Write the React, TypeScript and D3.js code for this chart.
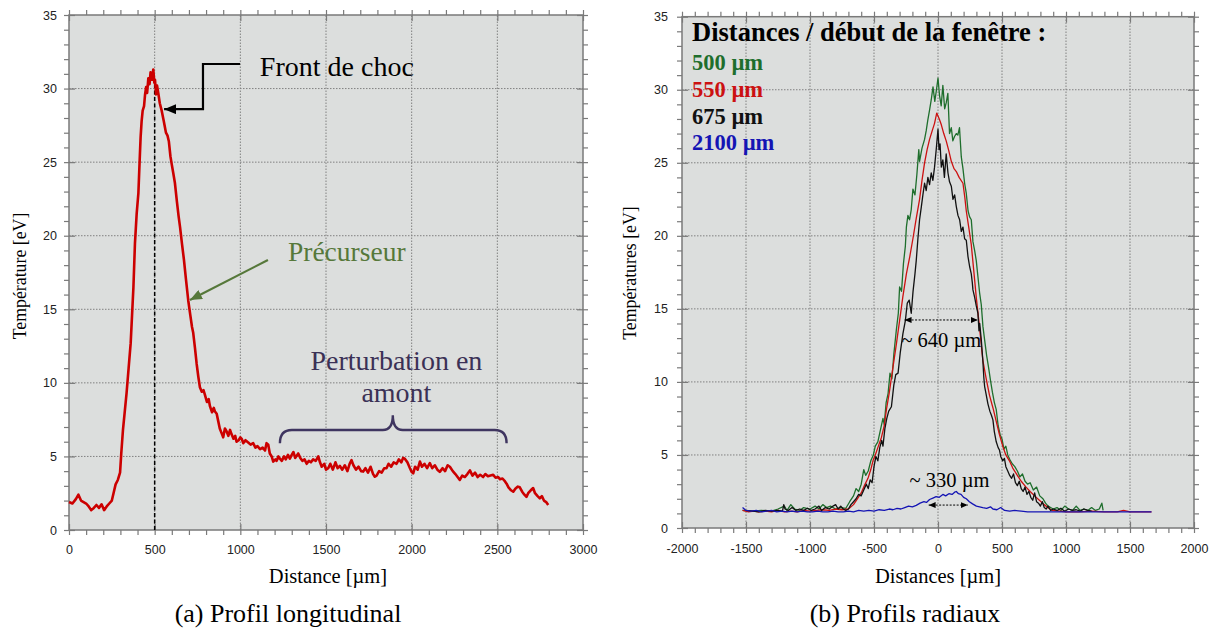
import { useEffect, useRef } from "react";
import * as d3 from "d3";

const W = 1214;
const H = 634;

const BG = "#dcdedd";
const GRID = "#808080";
const FRAME = "#7a7a7a";
const SANS = "'Liberation Sans', Arial, sans-serif";
const SERIF = "'Liberation Serif', 'Times New Roman', serif";

const RED = "#cc1111";
const GREEN = "#1e6e2c";
const BLACK = "#111111";
const BLUE = "#1414b4";

// (a) longitudinal profile: [distance µm, temperature eV]
const longProfile: [number, number][] = [
  [0, 1.9], [20, 1.8], [40, 2.1], [55, 2.4], [70, 2.0], [85, 1.9], [100, 1.8], [115, 1.6], [130, 1.35],
  [145, 1.5], [160, 1.7], [175, 1.5], [190, 1.75], [205, 1.35], [220, 1.6], [235, 1.8], [250, 2.0],
  [262, 2.6], [272, 3.1], [285, 3.4], [298, 3.9], [305, 5.2], [315, 6.8], [325, 8.0], [336, 9.3],
  [348, 11.0], [360, 12.7], [368, 14.6], [376, 16.5], [385, 19.5], [395, 21.5], [405, 22.9], [412, 25.0],
  [418, 26.7], [424, 27.8], [430, 28.5], [438, 28.8], [444, 29.6], [450, 30.1], [456, 29.7], [463, 30.7],
  [470, 30.3], [476, 31.1], [484, 30.6], [492, 31.3], [498, 30.4], [502, 30.6], [508, 29.6], [514, 30.2],
  [521, 29.7], [530, 29.0], [541, 28.5], [553, 27.8], [566, 27.0], [575, 26.8], [583, 26.4], [592, 25.4],
  [599, 24.9], [608, 24.3], [618, 23.6], [630, 22.3], [640, 21.3], [648, 20.6], [660, 19.4], [671, 18.35],
  [683, 17.0], [696, 15.6], [708, 14.6], [718, 13.8], [725, 13.4], [735, 12.4], [745, 11.3], [755, 10.4],
  [764, 9.7], [775, 9.4], [785, 9.5], [793, 9.2], [805, 8.7], [815, 8.9], [823, 8.4], [835, 8.0],
  [845, 8.3], [852, 8.05], [862, 7.9], [871, 7.4], [880, 6.9], [890, 6.6], [900, 6.3], [910, 6.9],
  [920, 6.7], [930, 6.4], [940, 6.8], [949, 6.5], [960, 6.2], [970, 6.4], [978, 6.0], [990, 6.1],
  [1000, 6.3], [1008, 6.2], [1017, 5.9], [1030, 6.1], [1046, 5.95], [1060, 5.8], [1075, 5.9], [1088, 5.6],
  [1100, 5.7], [1115, 5.5], [1130, 5.6], [1144, 5.4], [1153, 5.9], [1163, 5.8], [1172, 5.2], [1183, 5.0],
  [1192, 4.65], [1205, 4.8], [1212, 4.7], [1222, 5.0], [1231, 4.85], [1242, 4.7], [1255, 5.0], [1265, 4.8],
  [1278, 5.1], [1289, 4.85], [1300, 5.1], [1310, 5.3], [1320, 4.9], [1338, 5.2], [1350, 4.9], [1362, 4.7],
  [1375, 4.8], [1387, 4.5], [1400, 4.7], [1412, 4.6], [1425, 4.8], [1440, 4.7], [1455, 5.0], [1465, 4.6],
  [1475, 4.3], [1490, 4.5], [1500, 4.1], [1513, 4.2], [1525, 4.5], [1540, 4.1], [1555, 4.6], [1568, 4.2],
  [1581, 4.35], [1595, 4.1], [1610, 4.4], [1625, 4.0], [1638, 4.5], [1649, 4.75], [1660, 4.4], [1675, 4.1],
  [1690, 4.3], [1705, 4.0], [1717, 3.97], [1730, 4.2], [1745, 3.9], [1760, 4.3], [1775, 3.8], [1785, 3.62],
  [1795, 3.7], [1810, 4.0], [1825, 3.9], [1840, 4.2], [1853, 4.2], [1865, 4.5], [1880, 4.3], [1895, 4.6],
  [1912, 4.5], [1925, 4.8], [1940, 4.6], [1950, 4.9], [1960, 4.85], [1975, 4.6], [1990, 4.2], [2000, 3.95],
  [2009, 3.85], [2020, 4.3], [2035, 4.1], [2048, 4.65], [2060, 4.3], [2075, 4.5], [2090, 4.2], [2106, 4.55],
  [2120, 4.2], [2135, 4.4], [2150, 4.1], [2164, 3.95], [2180, 4.2], [2195, 4.0], [2210, 4.4], [2223, 4.3],
  [2240, 4.0], [2255, 3.8], [2268, 3.6], [2281, 3.4], [2295, 3.7], [2310, 3.6], [2325, 3.8], [2340, 4.05],
  [2355, 3.7], [2370, 3.9], [2385, 3.6], [2400, 3.75], [2417, 3.6], [2430, 3.8], [2445, 3.65], [2460, 3.7],
  [2476, 3.75], [2490, 3.55], [2505, 3.6], [2515, 3.45], [2530, 3.5], [2545, 3.3], [2554, 3.15], [2565, 2.9],
  [2580, 2.7], [2593, 2.6], [2605, 2.8], [2620, 2.95], [2631, 2.9], [2645, 2.6], [2658, 2.4], [2670, 2.25],
  [2680, 2.5], [2695, 2.7], [2709, 2.85], [2720, 2.5], [2735, 2.3], [2748, 2.15], [2760, 2.3], [2772, 2.0],
  [2785, 1.9], [2797, 1.7],
];

// (b) radial profiles: [distance µm, temperature eV]
const radial500: [number, number][] = [
  [-1527, 1.2], [-1450, 1.15], [-1380, 1.2], [-1300, 1.15], [-1250, 1.3], [-1200, 1.5], [-1180, 1.2],
  [-1150, 1.6], [-1120, 1.3], [-1080, 1.2], [-1050, 1.4], [-1000, 1.3], [-960, 1.5], [-930, 1.3],
  [-900, 1.6], [-870, 1.4], [-840, 1.5], [-800, 1.3], [-760, 1.4], [-720, 1.35], [-690, 1.8], [-660, 2.2],
  [-640, 2.7], [-620, 2.5], [-600, 3.0], [-580, 4.0], [-565, 3.6], [-545, 3.9], [-525, 4.6], [-505, 5.0],
  [-490, 5.6], [-470, 5.9], [-445, 6.9], [-430, 7.5], [-420, 7.1], [-405, 8.6], [-390, 9.2], [-375, 10.6],
  [-360, 10.2], [-345, 11.9], [-325, 13.6], [-310, 14.7], [-300, 16.5], [-285, 16.2], [-270, 18.1],
  [-255, 19.3], [-247, 20.6], [-235, 21.4], [-222, 21.1], [-209, 21.8], [-196, 23.2], [-180, 22.8],
  [-165, 24.2], [-150, 25.9], [-144, 25.1], [-125, 26.0], [-105, 26.6], [-92, 27.2], [-80, 27.9],
  [-66, 28.6], [-53, 29.3], [-39, 30.2], [-25, 29.2], [-12, 30.0], [0, 30.8], [12, 29.6], [25, 28.9],
  [38, 30.3], [52, 28.7], [64, 29.1], [77, 29.75], [90, 27.0], [104, 27.4], [116, 26.5], [129, 26.8],
  [143, 27.0], [155, 26.9], [168, 27.4], [182, 25.4], [195, 24.6], [208, 23.6], [221, 22.9], [235, 21.7],
  [247, 21.3], [260, 21.1], [273, 19.6], [286, 19.0], [299, 18.3], [312, 17.2], [325, 16.1], [338, 15.3],
  [351, 13.8], [364, 12.9], [380, 11.8], [395, 11.0], [410, 10.1], [425, 9.3], [440, 8.6], [455, 8.1],
  [470, 7.0], [485, 6.4], [500, 6.1], [515, 5.4], [530, 5.6], [545, 5.0], [560, 4.7], [580, 4.4],
  [600, 4.2], [620, 3.9], [640, 3.5], [660, 3.7], [680, 3.2], [700, 3.0], [720, 3.1], [745, 2.6],
  [770, 2.8], [795, 2.2], [820, 2.0], [840, 1.7], [860, 1.5], [880, 1.4], [900, 1.3], [930, 1.4],
  [960, 1.2], [990, 1.5], [1020, 1.3], [1050, 1.2], [1080, 1.5], [1110, 1.2], [1140, 1.3], [1170, 1.2],
  [1200, 1.4], [1230, 1.2], [1260, 1.3], [1280, 1.7], [1290, 1.2],
];

const radial550: [number, number][] = [
  [-1527, 1.2], [-1480, 1.1], [-1440, 1.15], [-1400, 1.1], [-1350, 1.15], [-1300, 1.1], [-1250, 1.2],
  [-1200, 1.1], [-1150, 1.15], [-1100, 1.1], [-1050, 1.2], [-1000, 1.15], [-950, 1.2], [-900, 1.25],
  [-850, 1.2], [-800, 1.3], [-750, 1.25], [-700, 1.3], [-660, 1.6], [-630, 2.0], [-600, 2.4], [-575, 2.9],
  [-547, 3.4], [-525, 4.0], [-508, 4.6], [-490, 5.0], [-470, 5.5], [-442, 6.2], [-420, 7.0], [-403, 8.1],
  [-380, 9.3], [-352, 11.0], [-325, 12.6], [-300, 14.2], [-275, 15.8], [-247, 17.4], [-220, 18.6],
  [-196, 19.8], [-170, 21.2], [-144, 22.5], [-125, 23.8], [-105, 25.0], [-85, 25.9], [-66, 26.6],
  [-45, 27.2], [-27, 27.7], [-10, 28.4], [0, 28.2], [10, 28.0], [26, 27.6], [45, 27.0], [64, 26.5],
  [85, 25.8], [104, 25.1], [125, 24.6], [143, 24.4], [165, 24.0], [195, 23.6], [210, 22.6], [221, 21.7],
  [240, 20.6], [260, 19.4], [286, 17.0], [300, 15.7], [319, 14.2], [335, 12.8], [350, 11.5], [375, 10.3],
  [402, 9.1], [430, 8.2], [455, 7.3], [480, 6.4], [506, 5.6], [530, 5.0], [558, 4.6], [584, 4.1],
  [620, 3.6], [650, 3.2], [688, 2.8], [720, 2.5], [755, 2.2], [792, 1.9], [830, 1.6], [865, 1.35],
  [896, 1.2], [950, 1.15], [1000, 1.1], [1100, 1.1], [1200, 1.15], [1300, 1.1], [1400, 1.1], [1450, 1.2],
  [1500, 1.1], [1600, 1.1], [1668, 1.1],
];

const radial675: [number, number][] = [
  [-1500, 1.2], [-1450, 1.15], [-1400, 1.1], [-1350, 1.2], [-1300, 1.15], [-1250, 1.2], [-1215, 1.15],
  [-1205, 1.6], [-1195, 1.3], [-1170, 1.2], [-1140, 1.4], [-1110, 1.2], [-1080, 1.3], [-1050, 1.2],
  [-1020, 1.35], [-990, 1.2], [-960, 1.3], [-930, 1.5], [-910, 1.2], [-880, 1.4], [-850, 1.3], [-820, 1.5],
  [-800, 1.6], [-780, 1.3], [-760, 1.5], [-740, 1.3], [-720, 1.2], [-700, 1.3], [-680, 1.6], [-660, 1.8],
  [-640, 2.0], [-620, 2.3], [-600, 2.2], [-580, 2.6], [-560, 3.0], [-545, 2.7], [-530, 3.3], [-515, 3.1],
  [-500, 4.2], [-485, 4.9], [-470, 4.6], [-455, 5.5], [-440, 6.0], [-430, 5.6], [-415, 6.8], [-400, 7.5],
  [-385, 8.0], [-364, 8.3], [-345, 9.8], [-330, 10.5], [-312, 10.6], [-295, 12.0], [-274, 13.3],
  [-255, 14.2], [-240, 15.4], [-225, 15.6], [-209, 14.7], [-195, 16.2], [-180, 17.4], [-170, 18.3],
  [-157, 19.8], [-144, 21.1], [-130, 22.0], [-118, 22.8], [-105, 23.6], [-92, 23.1], [-79, 24.0],
  [-66, 23.5], [-53, 24.3], [-40, 23.8], [-27, 24.7], [-14, 25.9], [-5, 26.8], [0, 27.3], [8, 25.9],
  [16, 26.3], [26, 24.7], [38, 25.2], [50, 24.0], [64, 25.6], [78, 24.3], [90, 23.7], [104, 23.4],
  [117, 22.5], [130, 22.8], [143, 22.0], [156, 21.4], [169, 21.1], [182, 20.3], [195, 20.6], [208, 19.8],
  [221, 19.7], [234, 18.6], [247, 17.9], [260, 17.4], [268, 16.8], [273, 16.3], [286, 15.8], [299, 15.2],
  [312, 14.7], [320, 13.5], [326, 14.0], [338, 12.9], [350, 11.5], [358, 10.3], [364, 9.7], [375, 9.2],
  [390, 8.5], [405, 8.0], [418, 7.7], [429, 7.4], [440, 6.6], [455, 5.9], [470, 5.5], [480, 5.34],
  [490, 4.9], [505, 4.6], [519, 4.77], [530, 4.2], [545, 3.9], [560, 3.6], [575, 3.4], [590, 3.7],
  [605, 3.1], [620, 2.9], [635, 3.2], [650, 2.7], [665, 2.5], [680, 2.8], [695, 2.3], [710, 2.5],
  [725, 2.1], [740, 1.9], [755, 2.4], [770, 1.8], [785, 1.7], [800, 1.5], [815, 1.8], [830, 1.4],
  [845, 1.3], [860, 1.5], [880, 1.2], [900, 1.3], [930, 1.2], [960, 1.35], [990, 1.15], [1020, 1.3],
  [1050, 1.2], [1080, 1.25], [1110, 1.15], [1140, 1.3], [1170, 1.2], [1200, 1.15],
];

const radial2100: [number, number][] = [
  [-1527, 1.4], [-1500, 1.2], [-1460, 1.15], [-1420, 1.2], [-1380, 1.1], [-1340, 1.15], [-1300, 1.2],
  [-1260, 1.1], [-1220, 1.15], [-1180, 1.1], [-1140, 1.15], [-1100, 1.1], [-1060, 1.15], [-1020, 1.1],
  [-980, 1.1], [-940, 1.15], [-900, 1.1], [-860, 1.1], [-820, 1.15], [-780, 1.1], [-740, 1.1],
  [-700, 1.15], [-660, 1.1], [-620, 1.2], [-580, 1.15], [-540, 1.2], [-500, 1.15], [-460, 1.25],
  [-420, 1.2], [-380, 1.3], [-352, 1.25], [-320, 1.35], [-290, 1.3], [-260, 1.4], [-230, 1.5],
  [-200, 1.45], [-170, 1.55], [-140, 1.7], [-110, 1.8], [-90, 1.75], [-66, 1.95], [-40, 2.05],
  [-15, 2.15], [10, 2.1], [38, 2.3], [60, 2.2], [85, 2.35], [110, 2.3], [130, 2.45], [143, 2.5],
  [160, 2.35], [180, 2.3], [200, 2.1], [221, 2.0], [245, 1.8], [270, 1.65], [300, 1.5], [325, 1.45],
  [350, 1.4], [380, 1.35], [410, 1.45], [429, 1.3], [460, 1.25], [490, 1.4], [520, 1.2], [560, 1.15],
  [600, 1.2], [650, 1.15], [700, 1.1], [760, 1.1], [820, 1.1], [900, 1.1], [1000, 1.1], [1100, 1.1],
  [1200, 1.1], [1300, 1.1], [1400, 1.1], [1500, 1.1], [1600, 1.1], [1668, 1.1],
];

const radialSeries = [
  { data: radial500, color: GREEN },
  { data: radial550, color: RED },
  { data: radial675, color: BLACK },
  { data: radial2100, color: BLUE },
];

const legendTitle = "Distances / début de la fenêtre :";
const legendLabels = ["500 µm", "550 µm", "675 µm", "2100 µm"];
const legendColors = [GREEN, RED, BLACK, BLUE];

const yMajor = [0, 5, 10, 15, 20, 25, 30, 35];
const yMinor = d3.range(0, 36, 1);
const xMajorA = [0, 500, 1000, 1500, 2000, 2500, 3000];
const xMinorA = d3.range(0, 3001, 100);
const xMajorB = [-2000, -1500, -1000, -500, 0, 500, 1000, 1500, 2000];
const xMinorB = d3.range(-2000, 2001, 100);

type Sel = d3.Selection<SVGGElement, unknown, null, undefined>;

function drawFrame(
  g: Sel,
  x: d3.ScaleLinear<number, number>,
  y: d3.ScaleLinear<number, number>,
  xMajor: number[],
  xMinor: number[],
  labelPadX: number,
  labelPadY: number
) {
  const [x0, x1] = x.range();
  const [y0, y1] = y.range();

  g.append("rect")
    .attr("x", x0).attr("y", y1)
    .attr("width", x1 - x0).attr("height", y0 - y1)
    .attr("fill", BG);

  g.selectAll(".gx")
    .data(xMajor.slice(1, -1))
    .join("line")
    .attr("x1", (d) => x(d)).attr("x2", (d) => x(d))
    .attr("y1", y0).attr("y2", y1)
    .attr("stroke", GRID).attr("stroke-width", 1).attr("stroke-dasharray", "1.5,1.5");

  g.selectAll(".gy")
    .data(yMajor.slice(1, -1))
    .join("line")
    .attr("x1", x0).attr("x2", x1)
    .attr("y1", (d) => y(d)).attr("y2", (d) => y(d))
    .attr("stroke", GRID).attr("stroke-width", 1).attr("stroke-dasharray", "1.5,1.5");

  const style = (a: Sel) => {
    a.select(".domain").remove();
    a.selectAll("line").attr("stroke", FRAME).attr("stroke-width", 1.2);
  };
  const blank = () => "";

  // minor ticks, outward on all four sides
  g.append("g").attr("transform", `translate(0,${y0})`).call(d3.axisBottom(x).tickValues(xMinor).tickSize(5).tickFormat(blank)).call(style);
  g.append("g").attr("transform", `translate(0,${y1})`).call(d3.axisTop(x).tickValues(xMinor).tickSize(5).tickFormat(blank)).call(style);
  g.append("g").attr("transform", `translate(${x0},0)`).call(d3.axisLeft(y).tickValues(yMinor).tickSize(5).tickFormat(blank)).call(style);
  g.append("g").attr("transform", `translate(${x1},0)`).call(d3.axisRight(y).tickValues(yMinor).tickSize(5).tickFormat(blank)).call(style);

  // major ticks inward + labels
  const xa = g.append("g").attr("transform", `translate(0,${y0})`)
    .call(d3.axisBottom(x).tickValues(xMajor).tickSize(-6).tickPadding(labelPadX).tickFormat((d) => String(d)))
    .call(style);
  xa.selectAll("text").attr("font-family", SANS).attr("font-size", 12.5).attr("fill", "#222");
  const ya = g.append("g").attr("transform", `translate(${x0},0)`)
    .call(d3.axisLeft(y).tickValues(yMajor).tickSize(-6).tickPadding(labelPadY).tickFormat((d) => String(d)))
    .call(style);
  ya.selectAll("text").attr("font-family", SANS).attr("font-size", 12.5).attr("fill", "#222");
  g.append("g").attr("transform", `translate(0,${y1})`).call(d3.axisTop(x).tickValues(xMajor).tickSize(-6).tickFormat(blank)).call(style);
  g.append("g").attr("transform", `translate(${x1},0)`).call(d3.axisRight(y).tickValues(yMajor).tickSize(-6).tickFormat(blank)).call(style);

  g.append("rect")
    .attr("x", x0).attr("y", y1)
    .attr("width", x1 - x0).attr("height", y0 - y1)
    .attr("fill", "none").attr("stroke", FRAME).attr("stroke-width", 1.5);
}

function addText(g: Sel, x: number, y: number, text: string, size: number, opts: Record<string, string | number> = {}) {
  const t = g.append("text").attr("x", x).attr("y", y).attr("font-family", SERIF).attr("font-size", size).text(text);
  Object.entries(opts).forEach(([k, v]) => t.attr(k, v));
  return t;
}

export default function App() {
  const svgRef = useRef<SVGSVGElement>(null);

  useEffect(() => {
    const svg = svgRef.current;
    if (!svg) return;
    const root = d3.select(svg);
    root.selectAll("*").remove();

    const defs = root.append("defs");
    const marker = (id: string, color: string, w: number, h: number) =>
      defs.append("marker")
        .attr("id", id).attr("viewBox", `0 0 ${w} ${h}`)
        .attr("refX", w).attr("refY", h / 2)
        .attr("markerWidth", w).attr("markerHeight", h)
        .attr("markerUnits", "userSpaceOnUse").attr("orient", "auto-start-reverse")
        .append("path").attr("d", `M0,0L${w},${h / 2}L0,${h}Z`).attr("fill", color);
    marker("arrBlack", "#000", 12, 10);
    marker("arrGreen", "#56783a", 12, 10);
    marker("arrSmall", "#000", 7, 6);

    const g = root.append("g") as unknown as Sel;

    // ---------- (a) Profil longitudinal ----------
    const xA = d3.scaleLinear().domain([0, 3000]).range([69, 583]);
    const yA = d3.scaleLinear().domain([0, 35]).range([530, 15]);
    const ga = g.append("g") as unknown as Sel;
    drawFrame(ga, xA, yA, xMajorA, xMinorA, 15, 12);

    // shock front marker
    ga.append("line")
      .attr("x1", xA(500)).attr("x2", xA(500))
      .attr("y1", yA(0)).attr("y2", yA(30.4))
      .attr("stroke", "#000").attr("stroke-width", 1.5).attr("stroke-dasharray", "4,2.5");

    const lineA = d3.line<[number, number]>().x((d) => xA(d[0])).y((d) => yA(d[1]));
    ga.append("path").datum(longProfile)
      .attr("d", lineA).attr("fill", "none")
      .attr("stroke", "#cc0000").attr("stroke-width", 2.6).attr("stroke-linejoin", "round");

    // Front de choc
    ga.append("path")
      .attr("d", `M${xA(998)},${yA(31.67)}H${xA(782)}V${yA(28.6)}H${xA(555)}`)
      .attr("fill", "none").attr("stroke", "#000").attr("stroke-width", 2.2)
      .attr("marker-end", "url(#arrBlack)");
    addText(ga, xA(1114), 76, "Front de choc", 28, { fill: "#000" });

    // Précurseur
    ga.append("line")
      .attr("x1", xA(1161)).attr("y1", yA(18.35))
      .attr("x2", xA(706)).attr("y2", yA(15.63))
      .attr("stroke", "#56783a").attr("stroke-width", 2.2)
      .attr("marker-end", "url(#arrGreen)");
    addText(ga, xA(1278), 261, "Précurseur", 27.5, { fill: "#56783a" });

    // Perturbation en amont
    addText(ga, xA(1911), 370, "Perturbation en", 28, { fill: "#3b3156", "text-anchor": "middle" });
    addText(ga, xA(1911), 401.5, "amont", 28, { fill: "#3b3156", "text-anchor": "middle" });
    const bl = xA(1231), br = xA(2554), bc = xA(1890), bt = yA(6.8), bb = yA(5.9), bp = yA(7.8);
    ga.append("path")
      .attr("d", `M${bl},${bb}Q${bl},${bt} ${bl + 12},${bt}L${bc - 10},${bt}Q${bc},${bt} ${bc},${bp}Q${bc},${bt} ${bc + 10},${bt}L${br - 12},${bt}Q${br},${bt} ${br},${bb}`)
      .attr("fill", "none").attr("stroke", "#3f3560").attr("stroke-width", 2.4);

    addText(ga, 328, 583, "Distance [µm]", 20.5, { "text-anchor": "middle" });
    addText(ga, 0, 0, "Température [eV]", 17.8, {
      "text-anchor": "middle",
      transform: `translate(26,276) rotate(-90)`,
    });
    addText(ga, 288, 622, "(a) Profil longitudinal", 26, { "text-anchor": "middle" });

    // ---------- (b) Profils radiaux ----------
    const xB = d3.scaleLinear().domain([-2000, 2000]).range([682, 1194]);
    const yB = d3.scaleLinear().domain([0, 35]).range([528, 16.7]);
    const gb = g.append("g") as unknown as Sel;
    drawFrame(gb, xB, yB, xMajorB, xMinorB, 16, 14);

    const lineB = d3.line<[number, number]>().x((d) => xB(d[0])).y((d) => yB(d[1]));
    gb.selectAll(".radial")
      .data(radialSeries)
      .join("path")
      .attr("d", (d) => lineB(d.data))
      .attr("fill", "none")
      .attr("stroke", (d) => d.color)
      .attr("stroke-width", 1.3)
      .attr("stroke-linejoin", "round");

    // widths
    const dbl = (xa: number, xb: number, yv: number) =>
      gb.append("line")
        .attr("x1", xB(xa)).attr("x2", xB(xb)).attr("y1", yB(yv)).attr("y2", yB(yv))
        .attr("stroke", "#000").attr("stroke-width", 1).attr("stroke-dasharray", "2,1.5")
        .attr("marker-start", "url(#arrSmall)").attr("marker-end", "url(#arrSmall)");
    dbl(-261, 311, 14.24);
    addText(gb, xB(-286), yB(12.4), "~ 640 µm", 20.5, { fill: "#000" });
    dbl(-73, 233, 1.57);
    addText(gb, xB(-222), yB(2.8), "~ 330 µm", 20.5, { fill: "#000" });

    // legend
    addText(gb, 692, 41, legendTitle, 26.5, { "font-weight": "bold", fill: "#000" });
    gb.selectAll(".leg")
      .data(legendLabels)
      .join("text")
      .attr("x", 692)
      .attr("y", (_, i) => 70 + i * 26.8)
      .attr("font-family", SERIF).attr("font-size", 22.5).attr("font-weight", "bold")
      .attr("fill", (_, i) => legendColors[i])
      .text((d) => d);

    addText(gb, 938, 583, "Distances [µm]", 20.5, { "text-anchor": "middle" });
    addText(gb, 0, 0, "Températures [eV]", 17.8, {
      "text-anchor": "middle",
      transform: `translate(636,273) rotate(-90)`,
    });
    addText(gb, 905, 622, "(b) Profils radiaux", 26, { "text-anchor": "middle" });

    return () => {
      root.selectAll("*").remove();
    };
  }, []);

  return (
    <div style={{ position: "absolute", left: 0, top: 0, width: W, height: H, background: "#fff" }}>
      <svg ref={svgRef} width={W} height={H} style={{ display: "block" }} />
    </div>
  );
}
